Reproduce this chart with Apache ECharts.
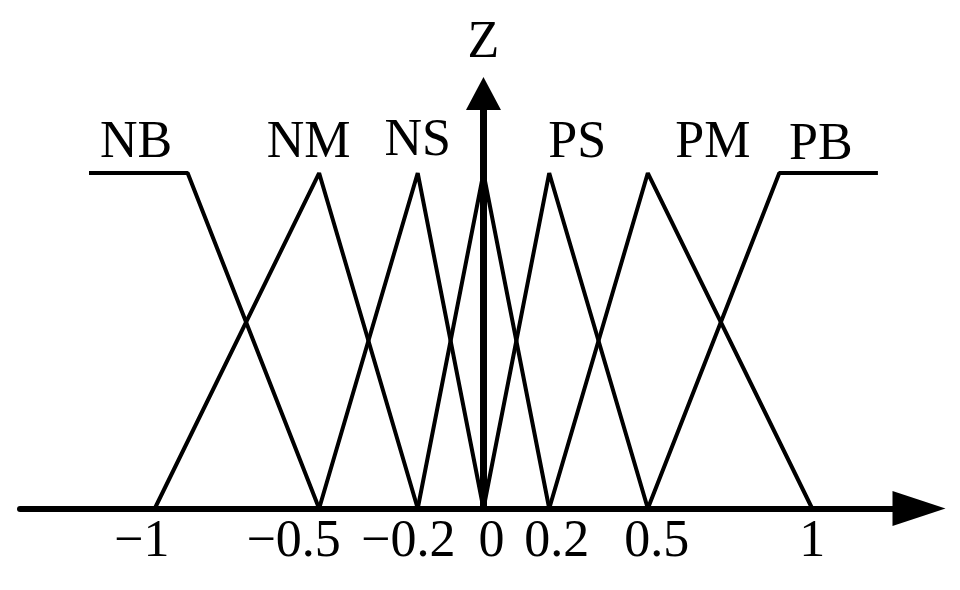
<!DOCTYPE html>
<html><head><meta charset="utf-8">
<script src="https://cdn.jsdelivr.net/npm/echarts@6/dist/echarts.min.js"></script>
<style>html,body{margin:0;padding:0;background:#fff}#c{width:960px;height:590px}</style>
</head><body><div id="c"></div>
<script>
// ---- data ----
const setNames = ['NB', 'NM', 'NS', 'ZE', 'PS', 'PM', 'PB'];
const setLabels = ['NB', 'NM', 'NS', '', 'PS', 'PM', 'PB'];
const nbX = [-1.2, -0.9, -0.5]; const nbY = [1, 1, 0];
const nmX = [-1, -0.5, -0.2];   const nmY = [0, 1, 0];
const nsX = [-0.5, -0.2, 0];    const nsY = [0, 1, 0];
const zeX = [-0.2, 0, 0.2];     const zeY = [0, 1, 0];
const psX = [0, 0.2, 0.5];      const psY = [0, 1, 0];
const pmX = [0.2, 0.5, 1];      const pmY = [0, 1, 0];
const pbX = [0.5, 0.9, 1.2];    const pbY = [0, 1, 1];
const tickValues = [-1, -0.5, -0.2, 0, 0.2, 0.5, 1];
const tickLabels = ['\u22121', '\u22120.5', '\u22120.2', '0', '0.2', '0.5', '1'];
const axisName = 'Z';

// ---- style / layout ----
const FONT = '"Liberation Serif","Times New Roman",serif';
const FS = 52;
const labelShift = { NB: [47, 2], NM: [-10.5, 2], NS: [0, 0], PS: [28, 2], PM: [65, 2], PB: [41.5, 4] };
const tickShift = [-13, -25.5, -9.5, 8, 7.5, 9, 0];

const xs = [nbX, nmX, nsX, zeX, psX, pmX, pbX];
const ys = [nbY, nmY, nsY, zeY, psY, pmY, pbY];

const rich = {};
tickShift.forEach((s, i) => {
  rich['t' + i] = {
    fontFamily: FONT, fontSize: FS, color: '#000',
    padding: s >= 0 ? [0, 0, 0, 2 * s] : [0, -2 * s, 0, 0]
  };
});

const series = xs.map((xArr, i) => {
  const name = setNames[i];
  const lab = setLabels[i];
  const anchor = ys[i].indexOf(1);
  return {
    name: name,
    type: 'line',
    symbol: 'circle',
    symbolSize: 1,
    showSymbol: true,
    itemStyle: { color: 'rgba(0,0,0,0)', borderWidth: 0 },
    lineStyle: { color: '#000', width: 4 },
    emphasis: { disabled: true },
    z: 3,
    data: xArr.map((x, j) => {
      const item = { value: [x, ys[i][j]] };
      if (j === anchor && lab) {
        item.label = {
          show: true, formatter: lab, position: 'top', distance: 5,
          offset: labelShift[name],
          color: '#000', fontFamily: FONT, fontSize: FS, opacity: 1
        };
      }
      return item;
    })
  };
});

const chart = echarts.init(document.getElementById('c'), null, { renderer: 'canvas' });
chart.setOption({
  animation: false,
  backgroundColor: '#fff',
  grid: { left: 20, right: 41, top: 93.5, bottom: 81.5, containLabel: false },
  xAxis: {
    type: 'value', min: -1.41, max: 1.325,
    axisLine: { show: true, onZero: true, symbol: ['none', 'triangle'], symbolSize: [35, 53],
      lineStyle: { color: '#000', width: 6 } },
    axisTick: { show: false },
    splitLine: { show: false },
    axisLabel: {
      show: true, customValues: tickValues, margin: 8,
      formatter: function (v) {
        const i = tickValues.findIndex(t => Math.abs(t - v) < 1e-6);
        return i < 0 ? '' : '{t' + i + '|' + tickLabels[i] + '}';
      },
      rich: rich, fontFamily: FONT, fontSize: FS, color: '#000'
    }
  },
  yAxis: {
    type: 'value', min: 0, max: 1.237,
    name: axisName, nameLocation: 'end', nameGap: 24,
    nameTextStyle: { fontFamily: FONT, fontSize: FS, color: '#000', align: 'center' },
    axisLine: { show: true, onZero: true, symbol: ['none', 'triangle'], symbolSize: [35, 33],
      lineStyle: { color: '#000', width: 7 } },
    axisTick: { show: false },
    splitLine: { show: false },
    axisLabel: { show: false }
  },
  series: series
});
</script></body></html>
